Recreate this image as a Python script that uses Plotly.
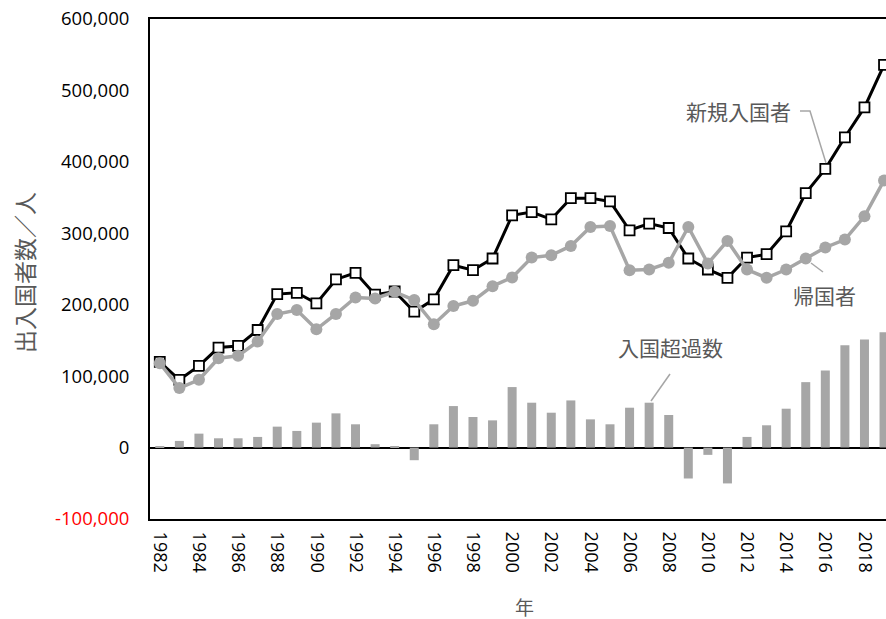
import plotly.graph_objects as go

years = list(range(1982, 2020))
new_entries = [120000, 94900, 114400, 140000, 142300, 164600, 214900, 216700, 201900, 235400,
               244600, 214000, 218500, 190200, 207500, 255300, 248400, 264700, 325100, 329700,
               319500, 349200, 349200, 344600, 304200, 313500, 307400, 264700, 249300, 237600,
               266000, 270700, 302800, 356300, 390200, 434400, 476200, 535800]
returnees = [118200, 83300, 94900, 125100, 128400, 148400, 187000, 192500, 165600, 187000,
             210200, 208800, 218100, 206500, 172600, 198100, 205500, 226000, 238200, 266000,
             269300, 282300, 308800, 310200, 248400, 249300, 258600, 308800, 257700, 289300,
             249300, 237600, 249300, 264700, 280100, 291200, 323700, 374000]
net_excess = [1000, 9300, 19500, 13000, 13000, 14900, 29300, 23300, 34900, 47900,
              32600, 4700, 1000, -17700, 32600, 58100, 42800, 38100, 84700, 62800,
              48800, 66000, 39500, 32600, 55800, 62800, 45600, -43300, -10200, -50200,
              14900, 31200, 54400, 91600, 107900, 143300, 151200, 161400]
x_tick_years = list(range(1982, 2019, 2))
y_tick_vals = [-100000, 0, 100000, 200000, 300000, 400000, 500000, 600000]
y_tick_text = ['<span style="color:#ff0000">-100,000</span>', '0', '100,000', '200,000',
               '300,000', '400,000', '500,000', '600,000']

W, H = 886, 619
# plot area in page pixels
L, R, T, B = 150, 886, 19, 519

def px(x):
    return (x - L) / (R - L)

def py(y):
    return (B - y) / (B - T)

NUM_FONT = "Open Sans, Noto Sans CJK JP, sans-serif"
JP_FONT = "Noto Sans CJK JP, sans-serif"
GRAY = "#a6a6a6"
TXT = "#595959"

fig = go.Figure()
fig.add_trace(go.Bar(x=years, y=net_excess, width=0.46, marker=dict(color=GRAY, line=dict(width=0)),
                     name="入国超過数"))
fig.add_trace(go.Scatter(x=years, y=new_entries, mode="lines+markers", name="新規入国者",
                         line=dict(color="black", width=3),
                         marker=dict(symbol="square", size=10, color="white",
                                     line=dict(color="black", width=1.8)),
                         cliponaxis=False))
fig.add_trace(go.Scatter(x=years, y=returnees, mode="lines+markers", name="帰国者",
                         line=dict(color=GRAY, width=3.5),
                         marker=dict(symbol="circle", size=12, color=GRAY),
                         cliponaxis=False))

shapes = []
def seg(pts):
    d = "M " + " L ".join(f"{px(a):.5f},{py(b):.5f}" for a, b in pts)
    shapes.append(dict(type="path", xref="paper", yref="paper", path=d,
                       line=dict(color=GRAY, width=1.5)))
seg([(800, 111), (810, 111), (826, 163)])
seg([(811, 263), (823, 272)])
seg([(670, 374), (651, 401)])

annotations = [
    dict(text="新規入国者", x=px(738), y=py(111), xref="paper", yref="paper", showarrow=False,
         font=dict(family=JP_FONT, size=21, color=TXT), xanchor="center", yanchor="middle"),
    dict(text="帰国者", x=px(824), y=py(295), xref="paper", yref="paper", showarrow=False,
         font=dict(family=JP_FONT, size=21, color=TXT), xanchor="center", yanchor="middle"),
    dict(text="入国超過数", x=px(670), y=py(347), xref="paper", yref="paper", showarrow=False,
         font=dict(family=JP_FONT, size=21, color=TXT), xanchor="center", yanchor="middle"),
    dict(text="出入国者数／人", x=px(24), y=py(272), xref="paper", yref="paper", showarrow=False,
         textangle=-90, font=dict(family=JP_FONT, size=23, color=TXT),
         xanchor="center", yanchor="middle"),
    dict(text="年", x=px(524), y=py(606), xref="paper", yref="paper", showarrow=False,
         font=dict(family=JP_FONT, size=19, color=TXT), xanchor="center", yanchor="middle"),
]

fig.update_layout(
    width=W, height=H,
    margin=dict(l=L, r=W - R, t=T, b=H - B, pad=0),
    paper_bgcolor="white", plot_bgcolor="white",
    showlegend=False,
    shapes=shapes, annotations=annotations,
    font=dict(family=NUM_FONT, size=17, color="#000000"),
    xaxis=dict(range=[1981.5, 2019.1], tickmode="array", tickvals=x_tick_years,
               ticktext=[str(v) for v in x_tick_years], tickangle=90,
               showgrid=False, zeroline=False, showline=True, mirror=True,
               linecolor="black", linewidth=2, ticks="", ticklabelstandoff=7,
               ticklabeloverflow="allow",
               tickfont=dict(family=NUM_FONT, size=18, color="#000000")),
    yaxis=dict(range=[-100000, 600000], tickmode="array", tickvals=y_tick_vals,
               ticktext=y_tick_text, showgrid=False, zeroline=True, zerolinecolor="black",
               zerolinewidth=2, showline=True, linecolor="black", linewidth=2, ticks="",
               ticklabelstandoff=15, ticklabeloverflow="allow",
               tickfont=dict(family=NUM_FONT, size=18.5, color="#000000")),
)

fig.write_html(
    "out.html",
    config={"displayModeBar": False},
    post_script="document.body.style.margin='0';document.body.style.overflow='hidden';"
                "document.documentElement.style.overflow='hidden';",
)
